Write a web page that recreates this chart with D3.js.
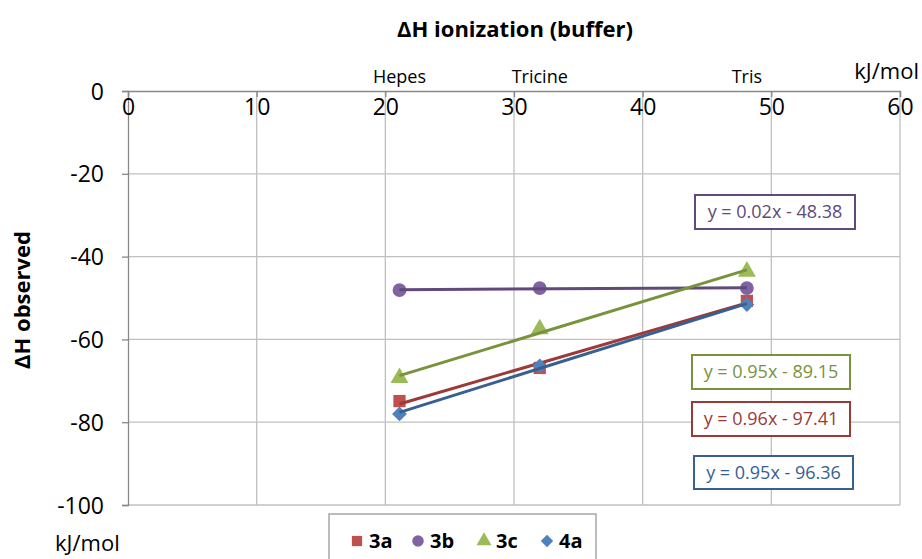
<!DOCTYPE html>
<html>
<head>
<meta charset="utf-8">
<script src="https://cdn.jsdelivr.net/npm/d3@7"></script>
<style>
  body { margin: 0; background: #fff; }
  text { font-family: "Open Sans", Lato, sans-serif; }
</style>
</head>
<body>
<div id="chart"></div>
<script>

// buffer ionization enthalpies (x) and observed enthalpies per compound (y)
var buffers = ["Hepes", "Tricine", "Tris"];
var buffer_dh = [21.1, 32.0, 48.1];

var series_names = ["3a", "3b", "3c", "4a"];
var values_3a = [-74.9, -66.9, -50.7];
var values_3b = [-48.1, -47.6, -47.6];
var values_3c = [-69.3, -57.5, -43.6];
var values_4a = [-78.0, -66.4, -51.6];

var equations = ["y = 0.96x - 97.41", "y = 0.02x - 48.38", "y = 0.95x - 89.15", "y = 0.95x - 96.36"];

var x_ticks = [0, 10, 20, 30, 40, 50, 60];
var y_ticks = [0, -20, -40, -60, -80, -100];

var width = 922, height = 559;
var margin = { top: 91, right: 22, bottom: 54, left: 128 };

var marker_colors = ["#C0504D", "#8064A2", "#9BBB59", "#4F81BD"];
var line_colors = ["#9B3A37", "#604A7B", "#77933C", "#376092"];
// diamond = square rotated 45 degrees
var symbols = [d3.symbolSquare, d3.symbolCircle, d3.symbolTriangle, d3.symbolSquare];
var sym_rot = [0, 0, 0, 45];
var sym_sizes = [150, 150, 140, 110];

// equation label boxes: [left, top, width, height]
var eq_boxes = [[692, 402, 158, 34], [695, 195, 160, 34], [692, 355, 158, 34], [694, 456, 159, 33]];

var all_values = [values_3a, values_3b, values_3c, values_4a];
var series = series_names.map(function(name, i) {
    return {
        name: name,
        points: buffer_dh.map(function(x, j) { return { x: x, y: all_values[i][j] }; })
    };
});

var svg = d3.select("#chart").append("svg")
    .attr("width", width)
    .attr("height", height);

var x = d3.scaleLinear().domain([0, 60]).range([margin.left, width - margin.right]);
var y = d3.scaleLinear().domain([0, -100]).range([margin.top, height - margin.bottom]);

// grid
svg.selectAll(".vgrid")
  .data(x_ticks.slice(1))
  .enter().append("line")
    .attr("x1", function(d) { return x(d); })
    .attr("x2", function(d) { return x(d); })
    .attr("y1", y(0))
    .attr("y2", y(-100))
    .attr("stroke", "#C0C0C0")
    .attr("stroke-width", 1.3);

svg.selectAll(".hgrid")
  .data(y_ticks.slice(1))
  .enter().append("line")
    .attr("x1", x(0))
    .attr("x2", x(60))
    .attr("y1", function(d) { return y(d); })
    .attr("y2", function(d) { return y(d); })
    .attr("stroke", "#C0C0C0")
    .attr("stroke-width", 1.3);

// y axis
var yAxis = svg.append("g")
    .attr("transform", "translate(" + x(0) + ",0)")
    .call(d3.axisLeft(y).tickValues(y_ticks).tickSize(6).tickPadding(18).tickFormat(function(d) { return String(d); }));
yAxis.select(".domain").attr("stroke", "#888").attr("stroke-width", 1.3);
yAxis.selectAll(".tick line").attr("stroke", "#888").attr("stroke-width", 1.3);
yAxis.selectAll("text")
    .style("font-size", "23px")
    .attr("fill", "#000")
    .attr("dy", "0.35em");

// x axis at y = 0 with labels drawn below
var xAxis = svg.append("g")
    .attr("transform", "translate(0," + y(0) + ")")
    .call(d3.axisBottom(x).tickValues(x_ticks).tickSize(6).tickPadding(2).tickFormat(function(d) { return String(d); }));
xAxis.select(".domain").attr("stroke", "#888").attr("stroke-width", 1.3);
xAxis.selectAll(".tick line").attr("stroke", "#888").attr("stroke-width", 1.3);
xAxis.selectAll("text")
    .style("font-size", "23px")
    .attr("fill", "#000");

// buffer names above the axis
svg.selectAll(".bufLabel")
  .data(buffers)
  .enter().append("text")
    .attr("x", function(d, i) { return x(buffer_dh[i]); })
    .attr("y", 83)
    .attr("text-anchor", "middle")
    .style("font-size", "18px")
    .text(function(d) { return d; });

svg.append("text")
    .attr("x", 919).attr("y", 79)
    .attr("text-anchor", "end")
    .style("font-size", "22px")
    .text("kJ/mol");

svg.append("text")
    .attr("x", 55).attr("y", 551)
    .style("font-size", "22px")
    .text("kJ/mol");

// titles
svg.append("text")
    .attr("x", 515).attr("y", 37)
    .attr("text-anchor", "middle")
    .style("font-size", "22px")
    .style("font-weight", "bold")
    .text("ΔH ionization (buffer)");

svg.append("text")
    .attr("transform", "translate(30,300) rotate(-90)")
    .attr("text-anchor", "middle")
    .style("font-size", "22px")
    .style("font-weight", "bold")
    .text("ΔH observed");

// least-squares trendline per series
function fit(points) {
    var mx = d3.mean(points, function(p) { return p.x; });
    var my = d3.mean(points, function(p) { return p.y; });
    var sxy = d3.sum(points, function(p) { return (p.x - mx) * (p.y - my); });
    var sxx = d3.sum(points, function(p) { return (p.x - mx) * (p.x - mx); });
    var b = sxy / sxx;
    return { slope: b, intercept: my - b * mx };
}

var plot = svg.append("g");

series.forEach(function(s, i) {
    var f = fit(s.points);
    var x0 = d3.min(s.points, function(p) { return p.x; });
    var x1 = d3.max(s.points, function(p) { return p.x; });

    plot.selectAll(".mk" + i)
      .data(s.points)
      .enter().append("path")
        .attr("d", d3.symbol().type(symbols[i]).size(sym_sizes[i]))
        .attr("transform", function(d) { return "translate(" + x(d.x) + "," + y(d.y) + ") rotate(" + sym_rot[i] + ")"; })
        .attr("fill", marker_colors[i]);

    plot.append("line")
        .attr("x1", x(x0)).attr("y1", y(f.slope * x0 + f.intercept))
        .attr("x2", x(x1)).attr("y2", y(f.slope * x1 + f.intercept))
        .attr("stroke", line_colors[i])
        .attr("stroke-width", 3);
});

// equation labels
series.forEach(function(s, i) {
    var b = eq_boxes[i];
    svg.append("rect")
        .attr("x", b[0]).attr("y", b[1])
        .attr("width", b[2]).attr("height", b[3])
        .attr("fill", "#fff")
        .attr("stroke", line_colors[i])
        .attr("stroke-width", 2);
    svg.append("text")
        .attr("x", b[0] + b[2] / 2)
        .attr("y", b[1] + b[3] / 2)
        .attr("dy", "0.35em")
        .attr("text-anchor", "middle")
        .attr("fill", line_colors[i])
        .style("font-size", "18px")
        .text(equations[i]);
});

// legend
var legend = svg.append("g");
legend.append("rect")
    .attr("x", 329).attr("y", 514)
    .attr("width", 267).attr("height", 60)
    .attr("fill", "#fff")
    .attr("stroke", "#999")
    .attr("stroke-width", 1.3);

var legend_x = [357, 418, 484, 547];
series_names.forEach(function(name, i) {
    legend.append("path")
        .attr("d", d3.symbol().type(symbols[i]).size(sym_sizes[i] * 0.7))
        .attr("transform", "translate(" + legend_x[i] + ",541) rotate(" + sym_rot[i] + ")")
        .attr("fill", marker_colors[i]);
    legend.append("text")
        .attr("x", legend_x[i] + 12)
        .attr("y", 548)
        .style("font-size", "20px")
        .style("font-weight", "bold")
        .text(name);
});

</script>
</body>
</html>
